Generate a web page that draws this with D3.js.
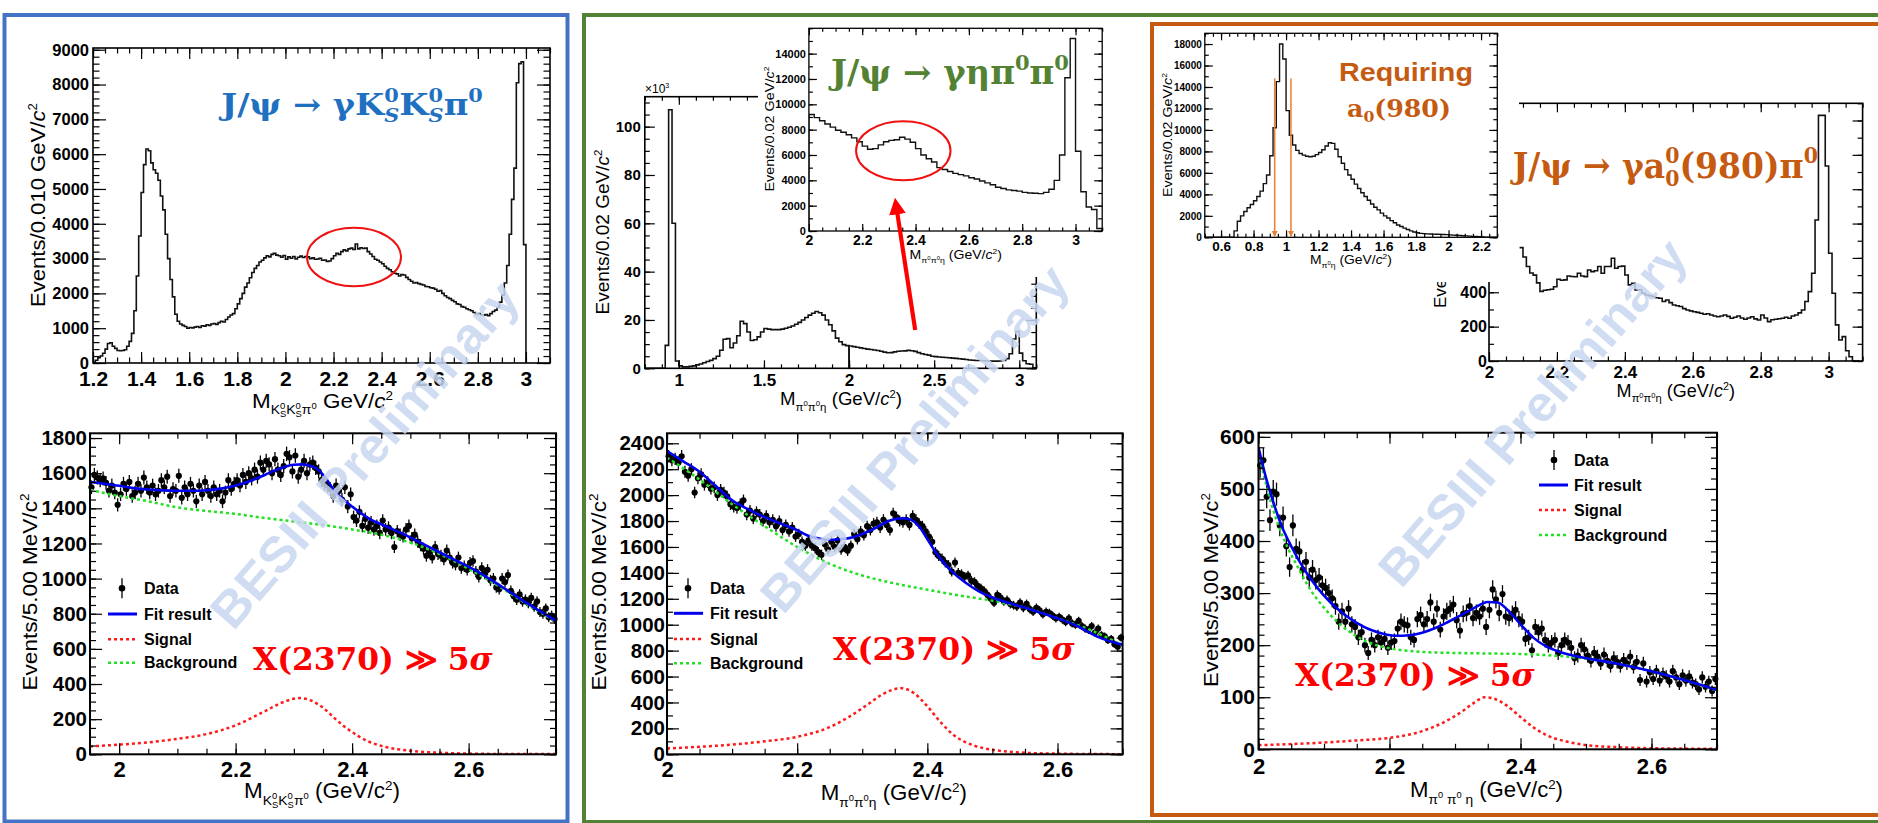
<!DOCTYPE html>
<html>
<head>
<meta charset="utf-8">
<script src="https://cdn.jsdelivr.net/npm/d3@7"></script>
<style>
  body { margin: 0; background: #fff; }
  svg { display: block; }
</style>
</head>
<body>
<script>
// ---------------- data ----------------
// J/psi -> gamma Ks Ks pi0 : M(Ks Ks pi0), 0.01 GeV bins starting at 1.20
const ksksStart = 1.20, ksksWidth = 0.01;
const ksksCounts = [
  30, 80, 150, 200, 280, 400, 560, 580, 480, 420,
  360, 350, 360, 380, 480, 620, 850, 1500, 2500, 3650,
  4900, 5700, 6150, 6100, 5750, 5550, 5450, 5250, 4800, 4400,
  3700, 3000, 2400, 1900, 1400, 1200, 1120, 1080, 1050, 1000,
  1020, 1010, 1030, 1050, 1020, 1070, 1060, 1100, 1080, 1120,
  1130, 1110, 1160, 1200, 1180, 1250, 1320, 1380, 1420, 1560,
  1700, 1850, 2000, 2180, 2300, 2450, 2600, 2720, 2800, 2900,
  2950, 3020, 3080, 3050, 3120, 3150, 3100, 3080, 3040, 3090,
  2980, 3050, 3010, 3060, 2990, 3040, 3070, 3030, 3060, 3050,
  3000, 3020, 2980, 2990, 3010, 2950, 2960, 2920, 2930, 3000,
  3080, 3150, 3120, 3200, 3250, 3220, 3280, 3300, 3260, 3420,
  3280, 3310, 3290, 3300, 3200, 3130, 3060, 2980, 2950, 2900,
  2850, 2780, 2720, 2680, 2620, 2580, 2560, 2500, 2540, 2530,
  2460, 2400, 2350, 2300, 2310, 2280, 2260, 2240, 2200, 2190,
  2160, 2150, 2120, 2060, 2080, 2000, 1930, 1880, 1850, 1800,
  1760, 1700, 1680, 1620, 1600, 1560, 1530, 1500, 1450, 1400,
  1420, 1380, 1370, 1390, 1360, 1420, 1480, 1520, 1600, 1750,
  1950, 2300, 2800, 3700, 4700, 5600, 8050, 8600, 8650, 3400
];

// J/psi -> gamma eta pi0 pi0 : M(pi0 pi0 eta), 0.02 GeV bins
// below 2 GeV in units of 10^3 events
const etaLowStart = 0.80, etaWidth = 0.02;
const etaLowCounts = [
  0, 0, 0, 0, 0, 0, 9.5, 107, 60, 3,
  1.0, 0.6, 0.6, 0.8, 1.0, 1.4, 1.8, 2.3, 2.8, 3.3,
  4.0, 5.0, 7.5, 12.0, 12.3, 8.5, 10.5, 13.5, 19.5, 18.5,
  15.0, 11.5, 11.8, 13.0, 15.0, 16.5, 16.2, 16.0, 16.0, 16.0,
  16.2, 16.6, 17.0, 17.5, 18.2, 19.0, 20.0, 21.0, 22.0, 22.8,
  23.5, 23.0, 22.0, 20.0, 18.0, 15.5, 12.5, 11.0, 9.8, 9.4
];
// from 2 GeV upward, events per bin
const etaHighStart = 2.00;
const etaHighCounts = [
  9200, 8950, 8700, 8450, 8200, 7950, 7800, 7600, 7350, 7050,
  6700, 6450, 6500, 6800, 7050, 7150, 7200, 7400, 7250, 7000,
  6500, 6000, 5700, 5450, 5000, 4850, 4700, 4550, 4450, 4350,
  4200, 4100, 3950, 3800, 3650, 3450, 3350, 3250, 3200, 3150,
  3050, 3000, 2980, 2950, 3050, 3300, 4000, 6000, 12100, 15200,
  6300, 3100, 1900, 1700, 200
];

// M(pi0 eta), 0.02 GeV bins from 0.50
const pi0EtaStart = 0.50, pi0EtaWidth = 0.02;
const pi0EtaCounts = [
  0, 0, 0, 0, 0, 0, 0, 0, 0, 600,
  1500, 2000, 2400, 2750, 3050, 3400, 3800, 4300, 5000, 5800,
  7600, 10200, 14500, 18000, 16600, 11800, 9500, 8600, 8100, 7800,
  7650, 7550, 7500, 7550, 7700, 7900, 8150, 8500, 8800, 8750,
  8200, 7500, 6900, 6300, 5800, 5400, 4950, 4550, 4150, 3800,
  3450, 3100, 2800, 2550, 2250, 2000, 1800, 1550, 1350, 1150,
  1000, 850, 720, 600, 500, 420, 370, 340, 320, 305,
  295, 285, 275, 260, 245, 225, 205, 185, 170, 150,
  130, 110, 90, 70, 50, 30, 15, 5, 0, 0
];
const a0CutLow = 0.93, a0CutHigh = 1.03, a0CutTop = 14800;

// J/psi -> gamma a0(980) pi0 : M(pi0 pi0 eta), 0.01 GeV bins from 2.09
const a0PiStart = 2.09, a0PiWidth = 0.01;
const a0PiCounts = [
  660, 605, 550, 512, 500, 455, 405, 412, 415, 418,
  432, 476, 470, 472, 495, 492, 490, 511, 495, 491,
  530, 520, 525, 550, 511, 550, 550, 598, 540, 550,
  552, 501, 443, 452, 414, 414, 394, 384, 380, 375,
  368, 365, 346, 355, 340, 326, 322, 317, 305, 297,
  292, 287, 283, 278, 272, 275, 268, 262, 258, 262,
  268, 260, 249, 255, 262, 250, 243, 250, 258, 245,
  239, 268, 250, 229, 240, 243, 246, 249, 255, 249,
  262, 268, 280, 297, 346, 404, 511, 821, 1430, 1430,
  1135, 627, 394, 210, 122, 142, 60, 25, 0, 0
];

// ---- fit of M(Ks Ks pi0), 5 MeV bins from 1.95 ----
const ksksFitStart = 1.95, fitWidth = 0.005;
const ksksFitData = [
  1520, 1590, 1575, 1560, 1570, 1545, 1500, 1530, 1490, 1420, 1480, 1540, 1510, 1550, 1470, 1490, 1540, 1500, 1575, 1520,
  1490, 1530, 1480, 1500, 1560, 1520, 1580, 1470, 1510, 1500, 1585, 1460, 1520, 1480, 1540, 1500, 1440, 1530, 1480, 1550,
  1500, 1470, 1520, 1480, 1500, 1440, 1490, 1560, 1510, 1540, 1560, 1530, 1590, 1550, 1600, 1570, 1620, 1580, 1660, 1620,
  1670, 1650, 1600, 1680, 1620, 1590, 1640, 1710, 1690, 1610, 1700, 1580, 1620, 1670, 1600, 1650, 1660, 1630, 1610, 1560,
  1540, 1530, 1510, 1470, 1530, 1500, 1450, 1520, 1410, 1480, 1350, 1330, 1380, 1300, 1340, 1290, 1320, 1280, 1300, 1260,
  1330, 1280, 1290, 1260, 1180, 1270, 1250, 1240, 1280, 1300, 1230, 1250, 1210, 1190, 1170, 1130, 1150, 1120, 1180, 1140,
  1130, 1110, 1160, 1120, 1090, 1080, 1120, 1060, 1070, 1050, 1090, 1100, 1040, 1010, 1060, 1030, 1050, 990, 1000, 950,
  940, 1000, 980, 1020, 930, 900, 880, 910, 870, 880, 860, 890, 840, 870, 810, 800, 830, 780, 790, 770
];
const ksksTotalX = [1.95, 1.975, 2.0, 2.025, 2.05, 2.075, 2.1, 2.125, 2.15, 2.175, 2.2, 2.225, 2.25, 2.275, 2.3, 2.315, 2.33, 2.34, 2.355, 2.37, 2.385, 2.4, 2.43, 2.46, 2.49, 2.52, 2.55, 2.58, 2.61, 2.64, 2.67, 2.7, 2.73, 2.75];
const ksksTotalY = [1550, 1540, 1528, 1515, 1507, 1502, 1500, 1500, 1503, 1512, 1530, 1556, 1590, 1625, 1648, 1650, 1640, 1625, 1570, 1500, 1450, 1410, 1340, 1295, 1250, 1200, 1150, 1100, 1050, 990, 925, 860, 800, 760];
const ksksBkgX = [1.95, 2.0, 2.05, 2.1, 2.15, 2.2, 2.25, 2.3, 2.35, 2.4, 2.45, 2.5, 2.55, 2.6, 2.65, 2.7, 2.75];
const ksksBkgY = [1505, 1470, 1440, 1405, 1385, 1368, 1345, 1325, 1305, 1280, 1250, 1205, 1140, 1055, 960, 855, 755];
const ksksSigX = [1.95, 2.0, 2.05, 2.1, 2.15, 2.2, 2.25, 2.28, 2.31, 2.33, 2.35, 2.37, 2.39, 2.41, 2.43, 2.45, 2.5, 2.55, 2.6, 2.65, 2.75];
const ksksSigY = [45, 55, 68, 88, 115, 165, 245, 295, 320, 305, 265, 205, 150, 105, 70, 48, 20, 9, 4, 2, 1];

// ---- fit of M(pi0 pi0 eta), 5 MeV bins from 2.00 ----
const etaFitStart = 2.00;
const etaFitData = [
  2300, 2270, 2280, 2250, 2300, 2180, 2150, 2200, 2020, 2130, 2160, 2080, 2100, 2050, 2060, 2000, 2040, 2020, 1990, 1930,
  1910, 1900, 1930, 1960, 1850, 1880, 1820, 1870, 1850, 1800, 1840, 1790, 1810, 1760, 1800, 1730, 1770, 1720, 1750, 1680,
  1700, 1640, 1610, 1650, 1610, 1590, 1560, 1540, 1620, 1580, 1640, 1600, 1650, 1580, 1600, 1570, 1610, 1700, 1660, 1720,
  1690, 1760, 1730, 1780, 1790, 1750, 1810, 1770, 1730, 1860, 1830, 1800, 1790, 1810, 1770, 1840, 1810, 1780, 1760, 1720,
  1680, 1640, 1560, 1530, 1510, 1480, 1460, 1410, 1480, 1400, 1390, 1370, 1380, 1340, 1330, 1300, 1280, 1260, 1230, 1200,
  1170, 1230, 1210, 1180, 1190, 1160, 1150, 1140, 1170, 1130, 1160, 1120, 1100, 1130, 1110, 1080, 1100, 1090, 1070, 1050,
  1060, 1040, 1020, 1050, 1010, 1000, 1030, 990, 970, 960, 990, 940, 970, 920, 910, 880, 890, 850, 830, 900
];
const etaTotalX = [2.0, 2.025, 2.05, 2.075, 2.1, 2.125, 2.15, 2.175, 2.2, 2.215, 2.23, 2.245, 2.265, 2.28, 2.3, 2.32, 2.34, 2.36, 2.37, 2.38, 2.39, 2.4, 2.41, 2.42, 2.44, 2.46, 2.48, 2.5, 2.53, 2.56, 2.6, 2.63, 2.66, 2.7];
const etaTotalY = [2340, 2260, 2180, 2070, 1960, 1890, 1830, 1780, 1730, 1690, 1668, 1656, 1660, 1668, 1700, 1745, 1800, 1822, 1818, 1795, 1740, 1660, 1580, 1510, 1400, 1320, 1255, 1210, 1160, 1115, 1050, 990, 910, 845];
const etaBkgX = [2.0, 2.05, 2.1, 2.15, 2.2, 2.25, 2.3, 2.35, 2.4, 2.45, 2.5, 2.55, 2.6, 2.65, 2.7];
const etaBkgY = [2290, 2120, 1930, 1760, 1600, 1470, 1380, 1318, 1270, 1225, 1185, 1130, 1050, 960, 840];
const etaSigX = [2.0, 2.05, 2.1, 2.15, 2.2, 2.25, 2.28, 2.31, 2.33, 2.36, 2.38, 2.4, 2.42, 2.44, 2.46, 2.48, 2.5, 2.55, 2.6, 2.7];
const etaSigY = [45, 58, 75, 100, 135, 210, 290, 390, 460, 510, 470, 370, 250, 150, 90, 55, 35, 12, 5, 1];

// ---- fit of M(pi0 pi0 eta) with a0(980), 5 MeV bins from 2.00 ----
const a0FitStart = 2.00;
const a0FitData = [
  545, 555, 485, 440, 495, 490, 430, 445, 390, 350,
  430, 385, 380, 345, 360, 330, 345, 325, 330, 315,
  310, 300, 290, 275, 245, 265, 245, 270, 240, 235,
  215, 225, 200, 185, 210, 200, 215, 205, 212, 195,
  205, 208, 232, 245, 240, 238, 215, 210, 250, 258,
  240, 250, 282, 245, 270, 230, 255, 265, 270, 278,
  248, 228, 260, 262, 275, 252, 262, 255, 270, 235,
  268, 307, 288, 262, 298, 255, 252, 260, 268, 250,
  245, 212, 215, 190, 235, 225, 232, 210, 200, 205,
  210, 185, 200, 210, 205, 195, 175, 180, 200, 192,
  180, 170, 185, 178, 165, 182, 170, 160, 175, 168,
  160, 172, 165, 178, 158, 168, 133, 165, 130, 148,
  135, 150, 132, 145, 140, 130, 150, 138, 125, 142,
  132, 140, 128, 125, 115, 138, 120, 130, 112, 135
];
const a0TotalX = [2.0, 2.01, 2.02, 2.035, 2.05, 2.07, 2.09, 2.11, 2.13, 2.15, 2.17, 2.19, 2.21, 2.23, 2.25, 2.27, 2.29, 2.31, 2.33, 2.35, 2.365, 2.38, 2.4, 2.42, 2.44, 2.46, 2.48, 2.5, 2.55, 2.6, 2.65, 2.7];
const a0TotalY = [580, 528, 485, 430, 390, 345, 310, 282, 260, 243, 230, 222, 218, 219, 224, 233, 245, 258, 272, 283, 282, 268, 240, 214, 197, 187, 180, 175, 164, 150, 133, 114];
const a0BkgX = [2.0, 2.02, 2.04, 2.06, 2.08, 2.1, 2.12, 2.14, 2.16, 2.18, 2.2, 2.25, 2.3, 2.35, 2.4, 2.45, 2.5, 2.55, 2.6, 2.65, 2.7];
const a0BkgY = [570, 470, 400, 350, 305, 272, 245, 225, 210, 200, 194, 187, 185, 184, 183, 180, 174, 164, 150, 133, 113];
const a0SigX = [2.0, 2.05, 2.1, 2.15, 2.2, 2.25, 2.28, 2.31, 2.33, 2.345, 2.36, 2.38, 2.4, 2.42, 2.44, 2.47, 2.5, 2.55, 2.6, 2.7];
const a0SigY = [8, 10, 13, 17, 22, 35, 50, 72, 90, 100, 97, 83, 62, 42, 27, 15, 8, 4, 2, 1];

// ---------------- drawing helpers ----------------
const W = 1878, H = 823;
const SANS = "'Liberation Sans', Arial, Helvetica, sans-serif";
const SERIF = "'DejaVu Serif', serif";
const svg = d3.select("body").append("svg")
  .attr("width", W).attr("height", H)
  .style("font-family", SANS);
svg.append("rect").attr("width", W).attr("height", H).attr("fill", "#fff");
const defs = svg.append("defs");
let clipCount = 0;

function tickRange(a, b, s) {
  const n = Math.round((b - a) / s);
  return d3.range(n + 1).map(i => +(a + i * s).toFixed(6));
}
const fmtTick = v => String(+v.toFixed(4));

function makePlot(o) {
  const g = svg.append("g");
  const x = d3.scaleLinear().domain(o.xd).range([o.x0, o.x1]);
  const y = d3.scaleLinear().domain(o.yd).range([o.y1, o.y0]);
  const id = "frameclip" + (clipCount++);
  defs.append("clipPath").attr("id", id).append("rect")
    .attr("x", o.x0).attr("y", o.y0).attr("width", o.x1 - o.x0).attr("height", o.y1 - o.y0);
  return { g, x, y, o, clip: `url(#${id})` };
}

function drawAxes(p) {
  const { g, x, y, o } = p;
  const tw = o.tw || 1.2;
  const clean = s => {
    s.attr("font-size", null).attr("font-family", null);
    s.select(".domain").remove();
    s.selectAll("line").attr("stroke", "#000").attr("stroke-width", tw);
  };
  const labelled = (fs, maxLab) => s => {
    clean(s);
    s.selectAll("text").attr("font-size", fs).attr("font-weight", "bold").attr("fill", "#000");
    if (maxLab !== undefined) s.selectAll(".tick").filter(d => d > maxLab).select("text").remove();
  };
  const xMaj = tickRange(...o.xMaj), xMin = tickRange(...o.xMin);
  const yMaj = tickRange(...o.yMaj), yMin = tickRange(...o.yMin);
  const a = g.append("g");
  a.append("g").attr("transform", `translate(0,${o.y1})`)
    .call(d3.axisBottom(x).tickValues(xMin).tickSize(-o.tlx * 0.5).tickFormat("")).call(clean);
  a.append("g").attr("transform", `translate(0,${o.y0})`)
    .call(d3.axisTop(x).tickValues(xMin).tickSize(-o.tlx * 0.5).tickFormat("")).call(clean);
  a.append("g").attr("transform", `translate(${o.x0},0)`)
    .call(d3.axisLeft(y).tickValues(yMin).tickSize(-o.tly * 0.5).tickFormat("")).call(clean);
  a.append("g").attr("transform", `translate(${o.x1},0)`)
    .call(d3.axisRight(y).tickValues(yMin).tickSize(-o.tly * 0.5).tickFormat("")).call(clean);
  a.append("g").attr("transform", `translate(0,${o.y1})`)
    .call(d3.axisBottom(x).tickValues(xMaj).tickSize(-o.tlx).tickPadding(o.xPad).tickFormat(fmtTick))
    .call(labelled(o.xfs));
  a.append("g").attr("transform", `translate(0,${o.y0})`)
    .call(d3.axisTop(x).tickValues(xMaj).tickSize(-o.tlx).tickFormat("")).call(clean);
  a.append("g").attr("transform", `translate(${o.x0},0)`)
    .call(d3.axisLeft(y).tickValues(yMaj).tickSize(-o.tly).tickPadding(o.yPad).tickFormat(fmtTick))
    .call(labelled(o.yfs, o.yLabMax));
  a.append("g").attr("transform", `translate(${o.x1},0)`)
    .call(d3.axisRight(y).tickValues(yMaj).tickSize(-o.tly).tickFormat("")).call(clean);
  g.append("rect").attr("x", o.x0).attr("y", o.y0)
    .attr("width", o.x1 - o.x0).attr("height", o.y1 - o.y0)
    .attr("fill", "none").attr("stroke", "#000").attr("stroke-width", o.fw || 1.6);
}

function histogram(p, start, width, counts, scale = 1, sw = 1.6, fromZero = true) {
  const pts = fromZero ? [[start, 0]] : [];
  counts.forEach((c, i) => {
    const lo = start + i * width, hi = lo + width;
    pts.push([lo, c * scale], [hi, c * scale]);
  });
  pts.push([start + counts.length * width, 0]);
  p.g.append("path")
    .attr("d", d3.line().x(d => p.x(d[0])).y(d => p.y(d[1]))(pts))
    .attr("fill", "none").attr("stroke", "#111").attr("stroke-width", sw)
    .attr("clip-path", p.clip);
}

function fitPoints(p, start, width, vals) {
  const pts = vals.map((v, i) => ({ m: start + (i + 0.5) * width, v, e: Math.sqrt(v) }));
  const gg = p.g.append("g");
  gg.selectAll("line.bar").data(pts).join("line").attr("class", "bar")
    .attr("x1", d => p.x(d.m)).attr("x2", d => p.x(d.m))
    .attr("y1", d => p.y(d.v - d.e)).attr("y2", d => p.y(d.v + d.e))
    .attr("stroke", "#000").attr("stroke-width", 1.3);
  gg.selectAll("circle").data(pts).join("circle")
    .attr("cx", d => p.x(d.m)).attr("cy", d => p.y(d.v)).attr("r", 3.1).attr("fill", "#000");
}

function curve(p, xs, ys, color, dotted, w) {
  p.g.append("path")
    .attr("d", d3.line().x((d, i) => p.x(xs[i])).y(d => p.y(d)).curve(d3.curveMonotoneX)(ys))
    .attr("fill", "none").attr("stroke", color).attr("stroke-width", w)
    .attr("stroke-dasharray", dotted ? "3,3" : null)
    .attr("clip-path", p.clip);
}

function legend(lx0, lx1, mx, tx, ys, fs) {
  const g = svg.append("g");
  const labels = ["Data", "Fit result", "Signal", "Background"];
  g.append("line").attr("x1", mx).attr("x2", mx).attr("y1", ys[0] - 10).attr("y2", ys[0] + 10)
    .attr("stroke", "#000").attr("stroke-width", 1.3);
  g.append("circle").attr("cx", mx).attr("cy", ys[0]).attr("r", 3.3).attr("fill", "#000");
  g.append("line").attr("x1", lx0).attr("x2", lx1).attr("y1", ys[1]).attr("y2", ys[1])
    .attr("stroke", "#0000EE").attr("stroke-width", 3);
  g.append("line").attr("x1", lx0).attr("x2", lx1).attr("y1", ys[2]).attr("y2", ys[2])
    .attr("stroke", "#FF1A1A").attr("stroke-width", 2.5).attr("stroke-dasharray", "3,3");
  g.append("line").attr("x1", lx0).attr("x2", lx1).attr("y1", ys[3]).attr("y2", ys[3])
    .attr("stroke", "#22E022").attr("stroke-width", 2.5).attr("stroke-dasharray", "3,3");
  labels.forEach((l, i) => g.append("text").attr("x", tx).attr("y", ys[i]).attr("dy", "0.36em")
    .attr("font-size", fs).attr("font-weight", "bold").attr("fill", "#000").text(l));
}

// rich text with sub/superscripts; shifts are in units of the base size
function rich(t, fs, parts) {
  let cur = 0;
  t.attr("font-size", fs);
  parts.forEach(p => {
    const o = typeof p === "string" ? { t: p } : p;
    const sh = (o.sh || 0) * fs;
    const ts = t.append("tspan").text(o.t).attr("font-size", fs * (o.sc || 1));
    if (sh !== cur) ts.attr("dy", sh - cur);
    if (o.dx) ts.attr("dx", o.dx * fs);
    if (o.it) ts.attr("font-style", "italic");
    cur = sh;
  });
  return t;
}
// horizontal text fitted between L and R on a baseline
function fitH(t, L, R, base) {
  const bb = t.node().getBBox();
  const s = (R - L) / bb.width;
  t.attr("transform", `translate(${L - bb.x * s},${base}) scale(${s},1)`);
}
// vertical (rotated) axis title fitted to a length, centred on cy
function fitV(t, cy, bx, len) {
  const bb = t.node().getBBox();
  const s = len / bb.width;
  t.attr("transform", `translate(${bx},${cy}) rotate(-90) scale(${s},1) translate(${-(bb.x + bb.width / 2)},0)`);
}

const sub = (s, extra = {}) => Object.assign({ t: s, sh: 0.3, sc: 0.62 }, extra);
const ssup = s => ({ t: s, sh: 0.05, sc: 0.42 });
const ssub = s => ({ t: s, sh: 0.45, sc: 0.42, dx: -0.235 });
const sup = s => ({ t: s, sh: -0.38, sc: 0.6 });

function xTitle(parts, fs, L, R, base) {
  const t = svg.append("text").attr("fill", "#000");
  rich(t, fs, parts);
  fitH(t, L, R, base);
}
function yTitle(parts, fs, cy, bx, len) {
  const t = svg.append("text").attr("fill", "#000");
  rich(t, fs, parts);
  fitV(t, cy, bx, len);
}

const mKsKs = () => ["M", sub("K"), ssup("0"), ssub("S"), sub("K"), ssup("0"), ssub("S"), sub("π"), ssup("0")];
const mEta = ["M", sub("π"), ssup("0"), sub("π"), ssup("0"), sub("η")];
const unitIt = [" (GeV/", { t: "c", it: true }, sup("2"), { t: ")", sh: 0 }];
const unitUp = [" (GeV/c", sup("2"), { t: ")", sh: 0 }];

// ---------------- panel boxes ----------------
svg.append("rect").attr("x", 4.5).attr("y", 15).attr("width", 563).attr("height", 806.5)
  .attr("fill", "none").attr("stroke", "#4472C4").attr("stroke-width", 4);
svg.append("rect").attr("x", 584).attr("y", 15).attr("width", 1400).attr("height", 807)
  .attr("fill", "none").attr("stroke", "#548235").attr("stroke-width", 4);
svg.append("rect").attr("x", 1152).attr("y", 24).attr("width", 800).attr("height", 791)
  .attr("fill", "none").attr("stroke", "#C55A11").attr("stroke-width", 4);

// ================= panel 1 : Ks Ks pi0 =================
const p1t = makePlot({ x0: 93, x1: 550, y0: 48, y1: 363, xd: [1.2, 3.1], yd: [0, 9050],
  xMaj: [1.2, 3.0, 0.2], xMin: [1.2, 3.1, 0.05], yMaj: [0, 9000, 1000], yMin: [0, 9000, 200],
  tlx: 11, tly: 13, xfs: 21, yfs: 16.5, xPad: 8, yPad: 4 });
histogram(p1t, ksksStart, ksksWidth, ksksCounts);
drawAxes(p1t);
xTitle([...mKsKs(), " GeV/", { t: "c", it: true, sh: 0 }, sup("2")], 21, 252, 393, 408);
yTitle(["Events/0.010 GeV/", { t: "c", it: true }, sup("2")], 21, 205, 45, 204);

const p1b = makePlot({ x0: 90, x1: 556, y0: 433.3, y1: 754.3, xd: [1.95, 2.75], yd: [0, 1827],
  xMaj: [2.0, 2.6, 0.2], xMin: [1.95, 2.75, 0.05], yMaj: [0, 1800, 200], yMin: [0, 1800, 50],
  tlx: 11, tly: 12, xfs: 22, yfs: 20.5, xPad: 7, yPad: 3, fw: 2 });
fitPoints(p1b, ksksFitStart, fitWidth, ksksFitData);
curve(p1b, ksksBkgX, ksksBkgY, "#22E022", true, 2.5);
curve(p1b, ksksSigX, ksksSigY, "#FF1A1A", true, 2.5);
curve(p1b, ksksTotalX, ksksTotalY, "#0000EE", false, 2.6);
drawAxes(p1b);
xTitle([...mKsKs(), ...unitUp], 22, 244, 400, 798);
yTitle(["Events/5.00 MeV/c", sup("2")], 21, 592, 37, 197);
legend(108, 137, 122, 144, [588.3, 614, 639.3, 662.7], 16);

// ================= panel 2 : eta pi0 pi0 =================
const p2m = makePlot({ x0: 644.8, x1: 1036.3, y0: 96.7, y1: 368.3, xd: [0.8, 3.1], yd: [0, 112.4],
  xMaj: [1, 3, 0.5], xMin: [0.8, 3.1, 0.1], yMaj: [0, 100, 20], yMin: [0, 110, 5],
  tlx: 8, tly: 10, xfs: 17, yfs: 15, xPad: 5.5, yPad: 4 });
histogram(p2m, etaLowStart, etaWidth, etaLowCounts);
histogram(p2m, etaHighStart, etaWidth, etaHighCounts, 0.001);
drawAxes(p2m);
rich(svg.append("text").attr("x", 645).attr("y", 93).attr("fill", "#000"), 12, ["×10", sup("3")]);
xTitle([...mEta, ...unitIt], 19, 780, 902, 405);
yTitle(["Events/0.02 GeV/", { t: "c", it: true }, sup("2")], 19, 232, 609, 165);

// inset pasted on top of the full-range plot
svg.append("rect").attr("x", 758).attr("y", 24).attr("width", 348).attr("height", 253).attr("fill", "#fff");
const p2i = makePlot({ x0: 808.9, x1: 1102.2, y0: 28.3, y1: 231, xd: [2, 3.1], yd: [0, 16000],
  xMaj: [2, 3, 0.2], xMin: [2, 3.1, 0.05], yMaj: [0, 14000, 2000], yMin: [0, 16000, 1000],
  tlx: 7, tly: 8, xfs: 14, yfs: 11, xPad: 4, yPad: 3, fw: 1.3 });
histogram(p2i, etaHighStart, etaWidth, etaHighCounts, 1, 1.4);
drawAxes(p2i);
xTitle([...mEta, ...unitIt], 13, 909.6, 1002, 259);
yTitle(["Events/0.02 GeV/", { t: "c", it: true }, sup("2")], 13, 129, 774, 125);

const p2b = makePlot({ x0: 667, x1: 1122.6, y0: 433.3, y1: 754.3, xd: [2, 2.7], yd: [0, 2477],
  xMaj: [2, 2.6, 0.2], xMin: [2, 2.7, 0.05], yMaj: [0, 2400, 200], yMin: [0, 2400, 100],
  tlx: 11, tly: 12, xfs: 22, yfs: 20.5, xPad: 7, yPad: 2, fw: 2 });
fitPoints(p2b, etaFitStart, fitWidth, etaFitData);
curve(p2b, etaBkgX, etaBkgY, "#22E022", true, 2.5);
curve(p2b, etaSigX, etaSigY, "#FF1A1A", true, 2.5);
curve(p2b, etaTotalX, etaTotalY, "#0000EE", false, 2.6);
drawAxes(p2b);
xTitle([...mEta, ...unitUp], 22, 820.7, 967, 800);
yTitle(["Events/5.00 MeV/c", sup("2")], 21, 592, 606, 197);
legend(674, 703, 688, 710, [588.3, 613.3, 639, 663.3], 16);

// ================= panel 3 : a0(980) pi0 =================
const p3r = makePlot({ x0: 1489, x1: 1862.6, y0: 103.3, y1: 361, xd: [2, 3.1], yd: [0, 1500],
  xMaj: [2, 3, 0.2], xMin: [2, 3.1, 0.05], yMaj: [0, 1400, 200], yMin: [0, 1500, 100], yLabMax: 400,
  tlx: 9, tly: 10, xfs: 17, yfs: 16, xPad: 5, yPad: 2 });
histogram(p3r, a0PiStart, a0PiWidth, a0PiCounts, 1, 1.6, false);
drawAxes(p3r);
xTitle([...mEta, ...unitIt], 18, 1616.6, 1735, 397);
rich(svg.append("text").attr("fill", "#000")
  .attr("transform", "translate(1446,308) rotate(-90)"), 17,
  ["Events/0.01 GeV/", { t: "c", it: true }, sup("2")]);

// pi0 eta mass plot pasted over the upper-left corner
svg.append("rect").attr("x", 1155).attr("y", 27).attr("width", 364).attr("height", 255).attr("fill", "#fff");
const p3l = makePlot({ x0: 1204.8, x1: 1497.3, y0: 33.3, y1: 237.3, xd: [0.5, 2.3], yd: [0, 19000],
  xMaj: [0.6, 2.2, 0.2], xMin: [0.5, 2.3, 0.05], yMaj: [0, 18000, 2000], yMin: [0, 19000, 1000],
  tlx: 7, tly: 8, xfs: 13.5, yfs: 10, xPad: 4.5, yPad: 3, fw: 1.3 });
histogram(p3l, pi0EtaStart, pi0EtaWidth, pi0EtaCounts, 1, 1.4);
drawAxes(p3l);
xTitle(["M", sub("π"), ssup("0"), sub("η"), ...unitIt], 13, 1310, 1392, 264);
yTitle(["Events/0.02 GeV/", { t: "c", it: true }, sup("2")], 13, 135, 1172, 124);
defs.append("marker").attr("id", "cutHead").attr("viewBox", "0 0 10 10")
  .attr("refX", 9).attr("refY", 5).attr("markerWidth", 4).attr("markerHeight", 5)
  .attr("orient", "auto").append("path").attr("d", "M0,0 L10,5 L0,10 Z").attr("fill", "#ED7D31");
[a0CutLow, a0CutHigh].forEach(c => {
  svg.append("line").attr("x1", p3l.x(c)).attr("x2", p3l.x(c))
    .attr("y1", p3l.y(a0CutTop)).attr("y2", p3l.y(0) - 1)
    .attr("stroke", "#ED7D31").attr("stroke-width", 1.5).attr("marker-end", "url(#cutHead)");
});

const p3b = makePlot({ x0: 1258.5, x1: 1717, y0: 432.7, y1: 749.3, xd: [2, 2.7], yd: [0, 608],
  xMaj: [2, 2.6, 0.2], xMin: [2, 2.7, 0.05], yMaj: [0, 600, 100], yMin: [0, 600, 20],
  tlx: 11, tly: 12, xfs: 22, yfs: 21, xPad: 9, yPad: 3.5, fw: 2 });
fitPoints(p3b, a0FitStart, fitWidth, a0FitData);
curve(p3b, a0BkgX, a0BkgY, "#22E022", true, 2.5);
curve(p3b, a0SigX, a0SigY, "#FF1A1A", true, 2.5);
curve(p3b, a0TotalX, a0TotalY, "#0000EE", false, 2.6);
drawAxes(p3b);
xTitle(["M", sub("π"), ssup("0"), sub(" π"), ssup("0"), sub(" η"), ...unitUp], 22, 1410, 1563, 797);
yTitle(["Events/5.00 MeV/c", sup("2")], 21, 590, 1218, 194);
legend(1539, 1568, 1554, 1574, [460, 485, 510, 535], 16);

// ---------------- annotations ----------------
function serifLabel(parts, fs, color, L, R, base, weight = "bold") {
  const t = svg.append("text").attr("fill", color).attr("font-family", SERIF).attr("font-weight", weight);
  rich(t, fs, parts);
  fitH(t, L, R, base);
}
const tsup = s => ({ t: s, sh: -0.42, sc: 0.62 });
const tsub = (s, back) => ({ t: s, sh: 0.22, sc: 0.62, dx: -back, it: true });

serifLabel(["J/ψ → γK", tsup("0"), tsub("S", 0.43), { t: "K", sh: 0 }, tsup("0"), tsub("S", 0.43), { t: "π", sh: 0 }, tsup("0")],
  30, "#1F70C1", 218, 483, 115);
serifLabel(["J/ψ → γηπ", tsup("0"), { t: "π", sh: 0 }, tsup("0")], 34, "#548235", 828, 1069, 84);
serifLabel(["J/ψ → γa", tsup("0"), { t: "0", sh: 0.22, sc: 0.62, dx: -0.43 }, { t: "(980)π", sh: 0 }, tsup("0")],
  36, "#C55A11", 1510, 1818, 178);

const req = svg.append("text").attr("fill", "#C55A11").attr("font-weight", "bold").attr("font-size", 26).text("Requiring");
fitH(req, 1339, 1473, 81);
serifLabel(["a", { t: "0", sh: 0.22, sc: 0.62 }, { t: "(980)", sh: 0 }], 24, "#C55A11", 1347, 1451, 117, "bold");

[[253, 493, 670], [833, 1075, 660], [1295, 1535, 686]].forEach(([L, R, b]) => {
  serifLabel(["X(2370) ≫ 5", { t: "σ", it: true }], 31, "#FF0000", L, R, b);
});

// circled structures and pointer
svg.append("ellipse").attr("cx", 354).attr("cy", 257).attr("rx", 47).attr("ry", 29.2)
  .attr("fill", "none").attr("stroke", "#F01010").attr("stroke-width", 2);
svg.append("ellipse").attr("cx", 903.3).attr("cy", 150.7).attr("rx", 47.2).attr("ry", 29.5)
  .attr("fill", "none").attr("stroke", "#F01010").attr("stroke-width", 2);
defs.append("marker").attr("id", "redHead").attr("viewBox", "0 0 10 10")
  .attr("refX", 2).attr("refY", 5).attr("markerWidth", 4).attr("markerHeight", 4)
  .attr("markerUnits", "strokeWidth").attr("orient", "auto")
  .append("path").attr("d", "M0,0 L10,5 L0,10 Z").attr("fill", "#FF0000");
svg.append("line").attr("x1", 915.2).attr("y1", 330).attr("x2", 897).attr("y2", 211)
  .attr("stroke", "#FF0000").attr("stroke-width", 4.2).attr("marker-end", "url(#redHead)");

// watermark
[[364, 454], [914, 438], [1532, 412]].forEach(([cx, cy]) => {
  const t = svg.append("text").text("BESIII Preliminary")
    .attr("font-size", 50).attr("font-weight", "bold").attr("fill", "#C8D7F0")
    .attr("opacity", 0.85).attr("text-anchor", "middle");
  const bb = t.node().getBBox();
  const s = 440 / bb.width;
  t.attr("transform", `translate(${cx},${cy}) rotate(-49) scale(${s},1) translate(0,${0.36 * 50})`);
});
</script>
</body>
</html>
